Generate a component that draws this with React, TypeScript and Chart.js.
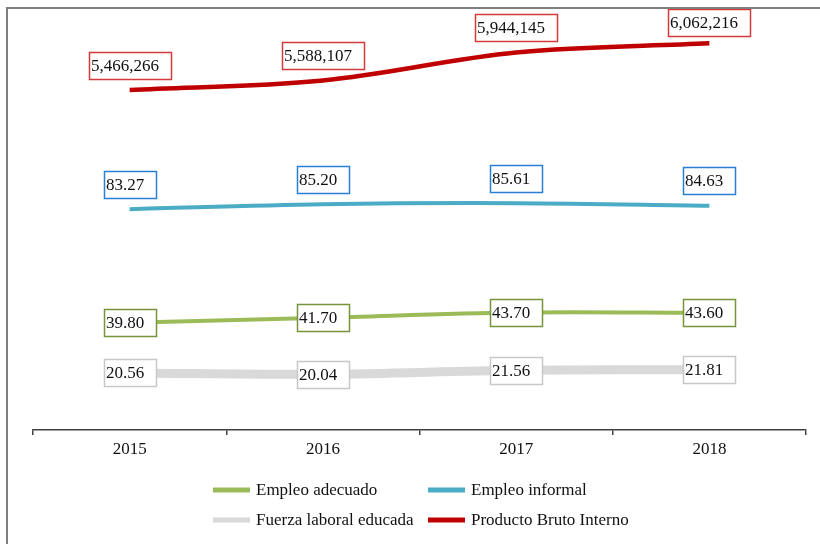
import { useEffect, useRef } from "react";
import { Chart, registerables } from "chart.js";

Chart.register(...registerables);

const years = ["2015", "2016", "2017", "2018"];
const empleoAdecuado = [39.8, 41.7, 43.7, 43.6];
const empleoInformal = [83.27, 85.2, 85.61, 84.63];
const fuerzaLaboral = [20.56, 20.04, 21.56, 21.81];
const pib = [5466266, 5588107, 5944145, 6062216];
const seriesNames = [
  "Empleo adecuado",
  "Empleo informal",
  "Fuerza laboral educada",
  "Producto Bruto Interno",
];

const FONT = "'Liberation Serif', 'Times New Roman', serif";

const fmtPct = (v: number) => v.toFixed(2);
const fmtPib = (v: number) => v.toLocaleString("en-US");

const STYLES = [
  { line: "#9bbb59", box: "#77933c", width: 4, dy: 0, fmt: fmtPct, legendW: 5 },
  { line: "#4bacc6", box: "#2a7fd4", width: 4, dy: -25, fmt: fmtPct, legendW: 5 },
  { line: "#d9d9d9", box: "#c8c8c8", width: 9, dy: 0, fmt: fmtPct, legendW: 5 },
  { line: "#c00000", box: "#d43a3a", width: 4.5, dy: -25, fmt: fmtPib, legendW: 5 },
];

const boxLabels = {
  id: "boxLabels",
  afterDatasetsDraw(chart: any) {
    const ctx = chart.ctx;
    ctx.save();
    ctx.font = `17px ${FONT}`;
    ctx.textBaseline = "middle";
    ctx.textAlign = "left";
    chart.data.datasets.forEach((ds: any, i: number) => {
      const meta = chart.getDatasetMeta(i);
      const st = STYLES[i];
      meta.data.forEach((pt: any, j: number) => {
        const text = st.fmt(ds.data[j]);
        const tw = ctx.measureText(text).width;
        const w = Math.round(tw + 14);
        const h = 27;
        const left = Math.round(pt.x - w / 2);
        let top = Math.round(pt.y + st.dy - h / 2);
        if (top < 9) top = 9;
        ctx.fillStyle = "#ffffff";
        ctx.fillRect(left, top, w, h);
        ctx.strokeStyle = st.box;
        ctx.lineWidth = 1.5;
        ctx.strokeRect(left + 0.5, top + 0.5, w, h);
        ctx.fillStyle = "#111111";
        ctx.fillText(text, left + 2, top + h / 2 + 1);
      });
    });
    ctx.restore();
  },
  afterDraw(chart: any) {
    const ctx = chart.ctx;
    ctx.save();
    // frame
    ctx.strokeStyle = "#7f7f7f";
    ctx.lineWidth = 2;
    ctx.beginPath();
    ctx.moveTo(7, 544);
    ctx.lineTo(7, 8);
    ctx.lineTo(820, 8);
    ctx.stroke();
    // legend
    const cols = [213, 428];
    const rows = [490, 520];
    ctx.font = `17px ${FONT}`;
    ctx.textBaseline = "middle";
    ctx.textAlign = "left";
    seriesNames.forEach((name, i) => {
      const x = cols[i % 2];
      const y = rows[Math.floor(i / 2)];
      ctx.strokeStyle = STYLES[i].line;
      ctx.lineWidth = STYLES[i].legendW;
      ctx.beginPath();
      ctx.moveTo(x, y);
      ctx.lineTo(x + 37, y);
      ctx.stroke();
      ctx.fillStyle = "#111111";
      ctx.fillText(name, x + 43, y + 1);
    });
    ctx.restore();
  },
};

export default function App() {
  const ref = useRef<HTMLCanvasElement>(null);
  useEffect(() => {
    if (!ref.current) return;
    const mk = (label: string, data: number[], i: number, axis: string) => ({
      label,
      data,
      yAxisID: axis,
      borderColor: STYLES[i].line,
      backgroundColor: STYLES[i].line,
      borderWidth: STYLES[i].width,
      borderCapStyle: "butt" as const,
      pointRadius: 0,
      pointHoverRadius: 0,
      tension: 0.35,
      fill: false,
    });
    const chart = new Chart(ref.current, {
      type: "line",
      data: {
        labels: years,
        datasets: [
          mk(seriesNames[0], empleoAdecuado, 0, "y"),
          mk(seriesNames[1], empleoInformal, 1, "y"),
          mk(seriesNames[2], fuerzaLaboral, 2, "y"),
          mk(seriesNames[3], pib, 3, "y1"),
        ],
      },
      options: {
        animation: false,
        responsive: false,
        maintainAspectRatio: false,
        layout: { padding: { left: 33, right: 14, top: 10, bottom: 84 } },
        plugins: { legend: { display: false }, tooltip: { enabled: false } },
        scales: {
          x: {
            offset: true,
            afterFit: (scale: any) => {
              scale.height = 30;
            },
            grid: {
              display: true,
              drawOnChartArea: false,
              drawTicks: true,
              tickLength: 5,
              color: "#404040",
              lineWidth: 1.5,
              offset: true,
            },
            border: { display: true, color: "#404040", width: 1.5 },
            ticks: {
              color: "#111111",
              font: { family: FONT, size: 17 },
              padding: 4,
              maxRotation: 0,
            },
          },
          y: { display: false, min: -1.31, max: 159.6 },
          y1: { display: false, position: "right", min: 1127526, max: 6487146 },
        },
      },
      plugins: [boxLabels],
    });
    return () => chart.destroy();
  }, []);
  return (
    <div style={{ position: "fixed", left: 0, top: 0, width: 820, height: 544, background: "#fff" }}>
      <canvas ref={ref} width={820} height={544} style={{ width: 820, height: 544, display: "block" }} />
    </div>
  );
}
